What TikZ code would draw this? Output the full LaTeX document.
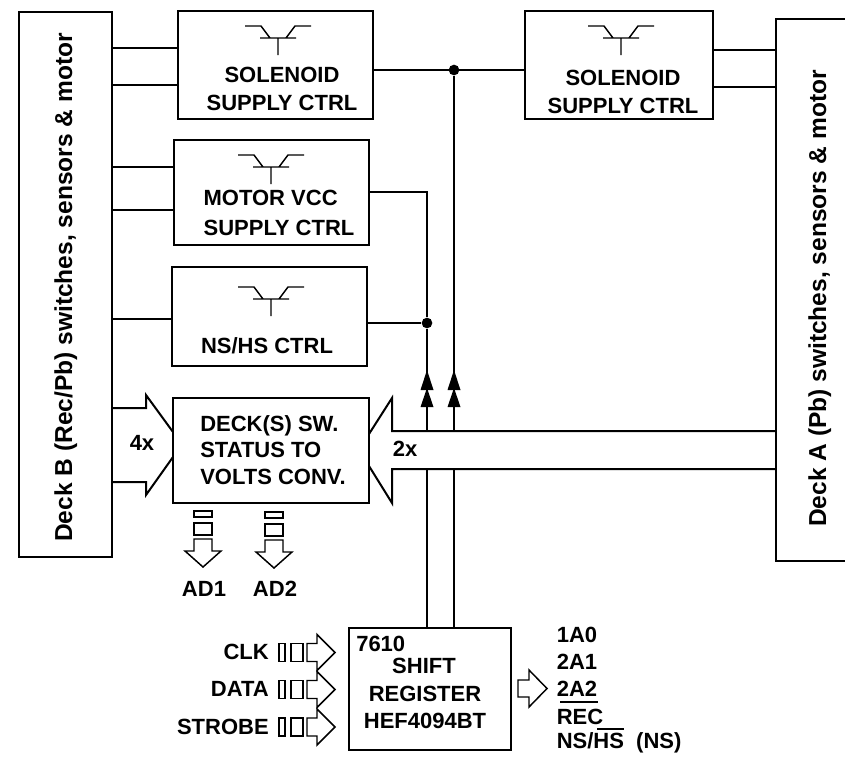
\documentclass[tikz,border=0pt]{standalone}
\usepackage{fontspec}
\setmainfont{Liberation Sans}
\begin{document}
\begin{tikzpicture}[x=0.75pt,y=-0.75pt,line join=miter,
  ln/.style={line width=1.5pt,black},
  box/.style={draw,line width=1.5pt,outer sep=0pt,inner sep=0pt},
  lbl/.style={font=\fontsize{16.5}{20}\selectfont\bfseries,align=center,inner sep=0pt},
  lbll/.style={font=\fontsize{16.5}{20}\selectfont\bfseries,anchor=west,inner sep=0pt},
  lblr/.style={font=\fontsize{16.5}{20}\selectfont\bfseries,anchor=east,inner sep=0pt},
  side/.style={font=\fontsize{18.4}{22}\selectfont\bfseries,inner sep=0pt,rotate=90,anchor=base},
  dotn/.style={circle,fill=black,inner sep=0pt,minimum size=8pt},
  tip/.style={fill=black,draw=none},
  trans/.pic={\draw[line width=1.1pt] (-33,0)--(-17,0)--(-8,12) (8,12)--(17,0)--(33,0) (-18,12)--(18,12) (0,12)--(0,29);},
  smallrects/.pic={\draw[line width=1.1pt] (-9,0) rectangle (9,6) (-9,12) rectangle (9,24);\draw[line width=1.1pt,fill=white] (-9,28)--(-9,40)--(-18,40)--(0,56)--(18,40)--(9,40)--(9,28)--cycle;},
  hrects/.pic={\draw[line width=1.1pt] (0,-9) rectangle (6,9) (12,-9) rectangle (24,9);\draw[line width=1.1pt] (28,-9)--(38,-9)--(38,-18)--(56,0)--(38,18)--(38,9)--(28,9)--cycle;}]
\useasboundingbox (0,0) rectangle (845,757);
% Boxes
\node[box,minimum width=146.25pt,minimum height=81pt] (sol1) at (275.5,65) {};
\node[box,minimum width=141pt,minimum height=81pt] (sol2) at (619,65) {};
\node[box,minimum width=146.25pt,minimum height=78.75pt] (motor) at (271.5,192.5) {};
\node[box,minimum width=146.25pt,minimum height=74.25pt] (nshs) at (269.5,316.5) {};
\node[box,minimum width=147pt,minimum height=78.75pt] (conv) at (271,450.5) {};
\node[box,minimum width=121.5pt,minimum height=91pt] (reg) at (430,689) {};
\node[box,minimum width=69.5pt,minimum height=408.4pt] (deckb) at (65.7,284.75) {};
\coordinate (aTL) at (845,19); \coordinate (aT) at (776,19); \coordinate (aB) at (776,561); \coordinate (aBR) at (845,561);
\draw[ln] (aTL)--(aT)--(aB)--(aBR);
% Connectors
\draw[ln] (deckb.east |- 0,48)--(sol1.west |- 0,48);
\draw[ln] (deckb.east |- 0,85)--(sol1.west |- 0,85);
\draw[ln] (deckb.east |- 0,167)--(motor.west |- 0,167);
\draw[ln] (deckb.east |- 0,210)--(motor.west |- 0,210);
\draw[ln] (deckb.east |- 0,319)--(nshs.west |- 0,319);
\draw[ln] (sol2.east |- 0,50)--(aT |- 0,50);
\draw[ln] (sol2.east |- 0,87)--(aT |- 0,87);
\draw[ln] (sol1.east |- 0,70)--(sol2.west |- 0,70);
\node[dotn] (j1) at (454,70) {};
\node[dotn] (j2) at (427,323) {};
\draw[ln] (nshs.east |- j2)--(j2);
\coordinate (mc) at (427,192);
\draw[ln] (motor.east |- mc)--(mc)--(j2);
\coordinate (ua) at (427,431); \coordinate (ub) at (454,431);
\coordinate (la) at (427,469); \coordinate (lb) at (454,469);
\draw[ln] (j2)--(ua) (j1)--(ub);
\draw[ln] (la)--(la |- reg.north) (lb)--(lb |- reg.north);
% double arrowheads
\foreach \x in {427,454}{
 \fill[tip] (\x,370)--(\x+6.5,390)--(\x-6.5,390)--cycle;
 \fill[tip] (\x,388)--(\x+6.5,407)--(\x-6.5,407)--cycle;
}
% wide arrows
\draw[ln] (aT |- 0,431)--(392,431)--(392,398)--(conv.east |- 0,434);
\draw[ln] (aT |- 0,469)--(392,469)--(392,503)--(conv.east |- 0,466);
\draw[ln] (deckb.east |- 0,408)--(146,408)--(146,395)--(conv.west |- 0,432);
\draw[ln] (deckb.east |- 0,482)--(146,482)--(146,495)--(conv.west |- 0,457);
% transistors
\pic at (278,26) {trans};
\pic at (621,26) {trans};
\pic at (271,155) {trans};
\pic at (271,287) {trans};
% small arrows
\pic at (203,511) {smallrects};
\pic at (274,512) {smallrects};
\pic at (279,652.5) {hrects};
\pic at (279,689.5) {hrects};
\pic at (279,727) {hrects};
\draw[line width=1.1pt] (reg.east |- 0,680)++(7,0) coordinate (o1) --++(11,0)--++(0,-10)--++(18,18.5)--++(-18,18.5)--++(0,-10)--++(-11,0)--cycle;
% labels
\node[lbl] (t1) at (282,89) {SOLENOID\\[0.7pt]SUPPLY CTRL};
\node[lbl] (t2) at (623,92) {SOLENOID\\[0.7pt]SUPPLY CTRL};
\node[lbl,align=left] (t3) at (279,213) {MOTOR VCC\\[2pt]SUPPLY CTRL};
\node[lbl] (t4) at (267,346) {NS/HS CTRL};
\node[lbl,align=left] (t5) at (273,450) {DECK(S) SW.\\STATUS TO\\VOLTS CONV.};
\node[lbl] (t6) at (142,443) {4x};
\node[lbl] (t7) at (405,449) {2x};
\node[lbl] (t8) at (204,589) {AD1};
\node[lbl] (t9) at (275,589) {AD2};
\node[lblr] (t10) at (269,652) {CLK};
\node[lblr] (t11) at (269,689) {DATA};
\node[lblr] (t12) at (269,727) {STROBE};
\node[lbll] (t13) at (356,644) {7610};
\node[lbl] (t14) at (424,666) {SHIFT};
\node[lbl] (t15) at (425,693.5) {REGISTER};
\node[lbl] (t16) at (425,721) {HEF4094BT};
\node[lbll] (t17) at (556.5,635) {1A0};
\node[lbll] (t18) at (556.5,662) {2A1};
\node[lbll] (t19) at (556.5,689) {2A2};
\node[lbll] (t20) at (556.5,717) {REC};
\node[lbll] (t21) at (556.5,743) {NS/HS\ \ (NS)};
\coordinate (r1a) at (560,702); \coordinate (r1b) at (598,702);
\coordinate (r2a) at (597,729); \coordinate (r2b) at (624,729);
\draw[line width=1.1pt] (r1a)--(r1b) (r2a)--(r2b);
\node[side] (t22) at (72,287.5) {Deck B (Rec/Pb) switches, sensors \& motor};
\node[side] (t23) at (826,298.5) {Deck A (Pb) switches, sensors \& motor};
\end{tikzpicture}
\end{document}
